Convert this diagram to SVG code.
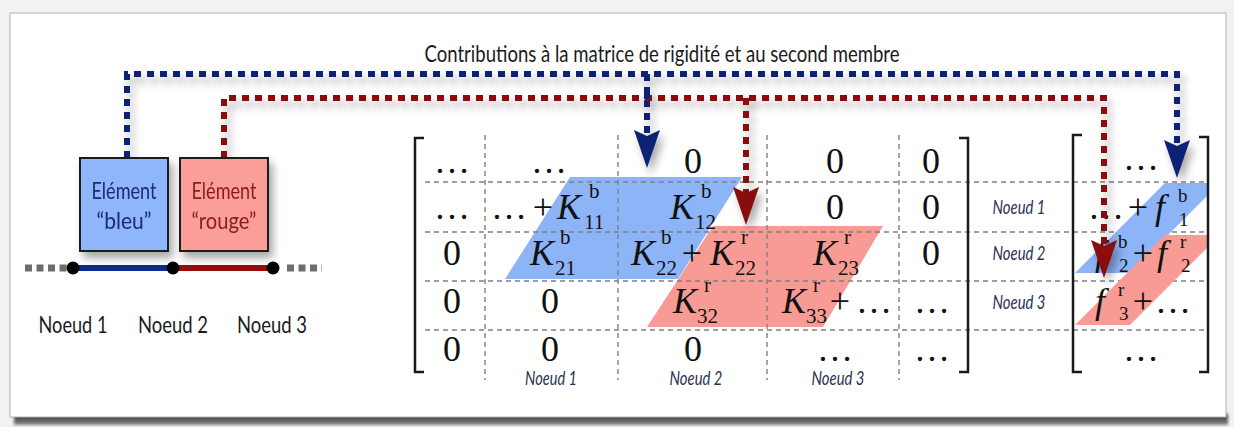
<svg xmlns="http://www.w3.org/2000/svg" width="1234" height="427" viewBox="0 0 1234 427">
<defs>
<style>
.sans{font-family:Lato,"Liberation Sans",sans-serif;}
.ttl{font-size:23px;fill:#1a1a1a;}
.lbl{font-size:24px;fill:#1a1a1a;}
.nd{font-size:19px;font-style:italic;fill:#2c3352;}
.m{font-family:"Liberation Serif","DejaVu Serif",serif;font-size:36px;fill:#111;}
.c{text-anchor:middle;}
.i{font-style:italic;}
.s{font-size:21px;}
.v{font-size:19px;}
.grid{stroke:#808080;stroke-width:1.4;stroke-dasharray:5 4;fill:none;}
.br{stroke:#1a1a1a;stroke-width:2.5;fill:none;}
.cb{fill:none;stroke:#0b2475;stroke-width:6;stroke-dasharray:7 6;}
.cr{fill:none;stroke:#8a0a0a;stroke-width:6;stroke-dasharray:7 6;}
.pb{fill:#8cb4f7;}
.pr{fill:#f99b95;}
</style>
<linearGradient id="bot" x1="0" y1="0" x2="0" y2="1">
<stop offset="0" stop-color="#2a2a2a"/>
<stop offset="1" stop-color="#8a8a8a"/>
</linearGradient>
<filter id="sh" x="-10%" y="-10%" width="130%" height="140%">
<feGaussianBlur in="SourceAlpha" stdDeviation="4"/>
<feOffset dx="4" dy="6"/>
<feComponentTransfer><feFuncA type="linear" slope="0.35"/></feComponentTransfer>
<feMerge><feMergeNode/><feMergeNode in="SourceGraphic"/></feMerge>
</filter>
<filter id="bl" x="-5%" y="-50%" width="110%" height="200%">
<feGaussianBlur stdDeviation="1.5"/>
</filter>
<marker id="ab" markerUnits="userSpaceOnUse" viewBox="-8 -15 42 30" markerWidth="42" markerHeight="30" refX="0" refY="0" orient="auto">
<path d="M-6,-13 L32,0 L-6,13 L0,0 Z" fill="#0b2475"/>
</marker>
<marker id="ar" markerUnits="userSpaceOnUse" viewBox="-8 -15 42 30" markerWidth="42" markerHeight="30" refX="0" refY="0" orient="auto">
<path d="M-6,-13 L32,0 L-6,13 L0,0 Z" fill="#8a0a0a"/>
</marker>
</defs>

<rect x="0" y="0" width="1234" height="427" fill="#f2f2f2"/>
<rect x="14" y="414" width="1214" height="11" fill="url(#bot)" filter="url(#bl)"/>
<rect x="10" y="13" width="1216" height="404" fill="#ffffff" stroke="#b0b0b0" stroke-width="1"/>

<g id="title">
<text class="sans ttl c" x="662" y="62" textLength="475" lengthAdjust="spacingAndGlyphs">Contributions à la matrice de rigidité et au second membre</text>
</g>

<g id="matrix">
<polygon class="pb" points="570,177 742,177 678,279 505,279"/>
<polygon class="pr" points="713,226 883,226 823,327 647,327"/>
<g class="grid">
<line x1="485" y1="135" x2="485" y2="380"/>
<line x1="618" y1="135" x2="618" y2="380"/>
<line x1="767" y1="135" x2="767" y2="380"/>
<line x1="899" y1="135" x2="899" y2="380"/>
<line x1="425" y1="182" x2="1207" y2="182"/>
<line x1="425" y1="232" x2="1207" y2="232"/>
<line x1="425" y1="281" x2="1207" y2="281"/>
<line x1="425" y1="330" x2="1207" y2="330"/>
</g>
<path class="br" d="M424,138 H415 V372 H424"/>
<path class="br" d="M959,138 H968 V372 H959"/>
<!-- row 1 -->
<text class="m c" x="452" y="173">…</text>
<text class="m c" x="549" y="173">…</text>
<text class="m c" x="693" y="173">0</text>
<text class="m c" x="835" y="173">0</text>
<text class="m c" x="931" y="173">0</text>
<!-- row 2 -->
<text class="m c" x="452" y="219">…</text>
<text class="m c" x="509" y="219">…</text>
<text class="m c" x="543" y="219">+</text>
<text class="m i" x="557" y="219">K</text><text class="m s" x="589" y="198">b</text><text class="m s" x="584" y="229">11</text>
<text class="m i" x="670" y="219">K</text><text class="m s" x="701" y="198">b</text><text class="m s" x="695" y="229">12</text>
<text class="m c" x="835" y="219">0</text>
<text class="m c" x="931" y="219">0</text>
<!-- row 3 -->
<text class="m c" x="452" y="265">0</text>
<text class="m i" x="530" y="265">K</text><text class="m s" x="560" y="244">b</text><text class="m s" x="555" y="275">21</text>
<text class="m i" x="631" y="265">K</text><text class="m s" x="661" y="244">b</text><text class="m s" x="656" y="275">22</text>
<text class="m c" x="692" y="265">+</text>
<text class="m i" x="710" y="265">K</text><text class="m s" x="741" y="244">r</text><text class="m s" x="735" y="275">22</text>
<text class="m i" x="813" y="265">K</text><text class="m s" x="844" y="244">r</text><text class="m s" x="838" y="275">23</text>
<text class="m c" x="931" y="265">0</text>
<!-- row 4 -->
<text class="m c" x="452" y="313">0</text>
<text class="m c" x="550" y="313">0</text>
<text class="m i" x="673" y="313">K</text><text class="m s" x="704" y="292">r</text><text class="m s" x="697" y="323">32</text>
<text class="m i" x="782" y="313">K</text><text class="m s" x="813" y="292">r</text><text class="m s" x="806" y="323">33</text>
<text class="m c" x="840" y="313">+</text>
<text class="m c" x="874" y="313">…</text>
<text class="m c" x="932" y="313">…</text>
<!-- row 5 -->
<text class="m c" x="452" y="361">0</text>
<text class="m c" x="550" y="361">0</text>
<text class="m c" x="693" y="361">0</text>
<text class="m c" x="835" y="361">…</text>
<text class="m c" x="932" y="361">…</text>
<!-- column labels -->
<text class="sans nd c" x="551" y="385" textLength="52" lengthAdjust="spacingAndGlyphs">Noeud 1</text>
<text class="sans nd c" x="696" y="385" textLength="53" lengthAdjust="spacingAndGlyphs">Noeud 2</text>
<text class="sans nd c" x="838" y="385" textLength="53" lengthAdjust="spacingAndGlyphs">Noeud 3</text>
<!-- row labels -->
<text class="sans nd c" x="1019" y="214" textLength="53" lengthAdjust="spacingAndGlyphs">Noeud 1</text>
<text class="sans nd c" x="1019" y="260" textLength="53" lengthAdjust="spacingAndGlyphs">Noeud 2</text>
<text class="sans nd c" x="1019" y="309" textLength="53" lengthAdjust="spacingAndGlyphs">Noeud 3</text>
</g>

<g id="vector">
<polygon class="pb" points="1165,183 1207,183 1207,196 1130,273 1075,273"/>
<polygon class="pr" points="1165,235 1207,235 1207,248 1130,325 1075,325"/>
<path class="br" d="M1082,135 H1073 V372 H1082"/>
<path class="br" d="M1199,137 H1208 V372 H1199"/>
<text class="m c" x="1141" y="170">…</text>
<text class="m c" x="1106" y="219">…</text>
<text class="m c" x="1138" y="219">+</text>
<text class="m i" x="1155" y="219">f</text><text class="m v" x="1178" y="202">b</text><text class="m v" x="1179" y="226">1</text>
<text class="m i" x="1095" y="265">f</text><text class="m v" x="1118" y="248">b</text><text class="m v" x="1119" y="272">2</text>
<text class="m c" x="1143" y="265">+</text>
<text class="m i" x="1157" y="265">f</text><text class="m v" x="1180" y="248">r</text><text class="m v" x="1181" y="272">2</text>
<text class="m i" x="1095" y="313">f</text><text class="m v" x="1118" y="296">r</text><text class="m v" x="1119" y="320">3</text>
<text class="m c" x="1143" y="313">+</text>
<text class="m c" x="1173" y="313">…</text>
<text class="m c" x="1141" y="361">…</text>
</g>

<g id="mesh">
<line x1="25" y1="268" x2="68" y2="268" stroke="#6e6e6e" stroke-width="7" stroke-dasharray="7 4.5"/>
<line x1="287" y1="268" x2="322" y2="268" stroke="#6e6e6e" stroke-width="7" stroke-dasharray="7 4.5"/>
<line x1="73" y1="268" x2="173" y2="268" stroke="#0e2a8a" stroke-width="6"/>
<line x1="173" y1="268" x2="273" y2="268" stroke="#990c0c" stroke-width="6"/>
<circle cx="73" cy="268" r="6.5" fill="#000"/>
<circle cx="173" cy="268" r="6.5" fill="#000"/>
<circle cx="273" cy="268" r="6.5" fill="#000"/>
<text class="sans lbl c" x="73" y="333" textLength="69" lengthAdjust="spacingAndGlyphs">Noeud 1</text>
<text class="sans lbl c" x="173" y="333" textLength="70" lengthAdjust="spacingAndGlyphs">Noeud 2</text>
<text class="sans lbl c" x="272" y="333" textLength="70" lengthAdjust="spacingAndGlyphs">Noeud 3</text>
</g>

<g id="connectors" filter="url(#sh)">
<path class="cb" d="M127,158 V74 H1177 V146" marker-end="url(#ab)"/>
<path class="cb" d="M647,74 V136" marker-end="url(#ab)"/>
<path class="cr" d="M224,158 V98 H1104 V246" marker-end="url(#ar)"/>
<path class="cr" d="M746,98 V193" marker-end="url(#ar)"/>
<path class="cb" d="M647,92 V104"/>
</g>

<g id="element-bleu" filter="url(#sh)">
<rect x="80" y="158" width="88" height="93" fill="#8fb6fa" stroke="#1a1a1a" stroke-width="2"/>
<text class="sans c" x="124" y="199" font-size="24" fill="#1c2a6e" textLength="65" lengthAdjust="spacingAndGlyphs">Elément</text>
<text class="sans c" x="124" y="229" font-size="24" fill="#1c2a6e" textLength="55" lengthAdjust="spacingAndGlyphs">“bleu”</text>
</g>

<g id="element-rouge" filter="url(#sh)">
<rect x="180" y="158" width="88" height="93" fill="#fb9e99" stroke="#1a1a1a" stroke-width="2"/>
<text class="sans c" x="224" y="199" font-size="24" fill="#8b1a1a" textLength="65" lengthAdjust="spacingAndGlyphs">Elément</text>
<text class="sans c" x="224" y="229" font-size="24" fill="#8b1a1a" textLength="65" lengthAdjust="spacingAndGlyphs">“rouge”</text>
</g>
</svg>
